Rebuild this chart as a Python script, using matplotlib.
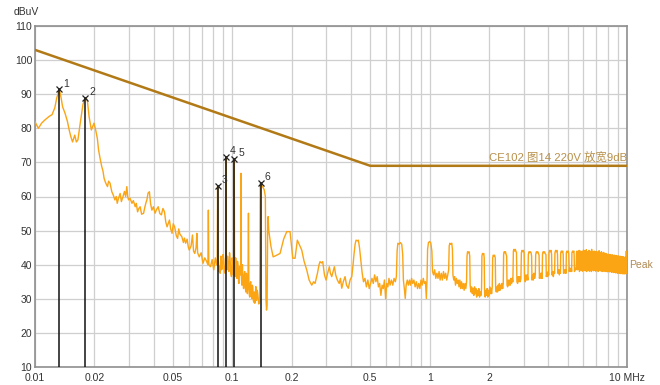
import matplotlib
matplotlib.use("Agg")
import matplotlib.pyplot as plt
from matplotlib.ticker import NullFormatter, FixedLocator

# peak trace, (MHz, dBuV) pairs, split by band
trace_low = [
    (0.0100, 81.9), (0.0104, 80.0), (0.0108, 81.5), (0.0112, 82.4), (0.0118, 83.5),
    (0.0122, 84.0), (0.0126, 86.0), (0.0129, 89.0), (0.0133, 91.4), (0.0136, 88.5),
    (0.0138, 86.3), (0.0142, 84.4), (0.0146, 82.0), (0.0149, 79.5), (0.0152, 77.5),
    (0.0155, 76.0), (0.0159, 78.0), (0.0162, 76.0), (0.0165, 76.6), (0.0170, 82.0),
    (0.0175, 87.0), (0.0180, 89.0), (0.0184, 88.4), (0.0188, 83.4), (0.0193, 79.5),
    (0.0199, 81.5), (0.0203, 79.5), (0.0207, 77.0), (0.0210, 73.6), (0.0214, 71.0),
    (0.0218, 68.7), (0.0221, 67.5), (0.0224, 65.3), (0.0228, 64.0), (0.0233, 62.9),
    (0.0236, 64.5), (0.0240, 63.9), (0.0245, 61.4), (0.0249, 60.5), (0.0254, 59.0),
    (0.0258, 60.0), (0.0261, 58.0), (0.0265, 59.5), (0.0270, 60.9), (0.0274, 58.5),
    (0.0279, 59.9), (0.0284, 61.5), (0.0288, 60.0), (0.0292, 62.9), (0.0295, 60.0),
    (0.0298, 59.0), (0.0303, 59.5), (0.0310, 58.0), (0.0315, 58.8), (0.0322, 57.0),
    (0.0326, 58.0), (0.0331, 55.5), (0.0336, 56.5), (0.0341, 57.0), (0.0347, 54.8),
    (0.0355, 55.1), (0.0360, 56.8), (0.0365, 58.2), (0.0369, 59.0), (0.0374, 61.0),
    (0.0380, 61.4), (0.0385, 58.0), (0.0391, 56.0), (0.0398, 57.0), (0.0406, 55.1),
    (0.0413, 56.2), (0.0421, 57.0), (0.0429, 55.0), (0.0437, 54.6), (0.0445, 56.5),
    (0.0453, 55.5), (0.0460, 52.5), (0.0467, 51.1), (0.0473, 52.0), (0.0480, 53.1),
    (0.0487, 50.5), (0.0495, 49.2), (0.0502, 52.0), (0.0510, 51.1), (0.0520, 48.5),
    (0.0528, 47.7), (0.0535, 50.5), (0.0542, 49.0), (0.0555, 48.2), (0.0565, 46.5),
    (0.0572, 47.8), (0.0580, 46.3), (0.0590, 47.5), (0.0598, 45.2), (0.0605, 44.3),
    (0.0618, 45.5), (0.0628, 48.7), (0.0636, 44.0), (0.0645, 43.3), (0.0655, 45.0),
    (0.0661, 49.2), (0.0667, 43.5), (0.0680, 42.3), (0.0695, 43.5), (0.0710, 40.4),
    (0.0725, 42.0), (0.0740, 41.0), (0.0752, 40.0), (0.0756, 56.0), (0.0760, 40.0),
    (0.0775, 39.4), (0.0790, 41.5), (0.0805, 38.5), (0.0820, 42.0), (0.0832, 40.0),
]

trace_spikes = [
    (0.0838, 40.0), (0.0842, 63.1), (0.0846, 40.0), (0.0850, 41.0), (0.0855, 38.0),
    (0.0860, 39.5), (0.0868, 37.5), (0.0875, 42.5), (0.0882, 38.5), (0.0890, 39.0),
    (0.0898, 43.0), (0.0905, 41.5), (0.0912, 38.0), (0.0918, 37.5), (0.0926, 40.0),
    (0.0929, 71.7), (0.0933, 40.0), (0.0940, 38.5), (0.0945, 42.5), (0.0952, 39.5),
    (0.0960, 38.0), (0.0968, 43.5), (0.0975, 41.5), (0.0982, 37.5), (0.0990, 36.5),
    (0.0998, 42.0), (0.1005, 40.5), (0.1012, 37.0), (0.1018, 39.0), (0.1022, 71.0),
    (0.1027, 39.0), (0.1034, 36.5), (0.1040, 42.0), (0.1048, 38.0), (0.1055, 36.0),
    (0.1062, 41.0), (0.1068, 40.0), (0.1075, 35.0), (0.1080, 34.5), (0.1088, 39.5),
    (0.1095, 38.5), (0.1102, 37.0), (0.1106, 66.8), (0.1110, 37.0), (0.1118, 34.0),
    (0.1125, 40.0), (0.1132, 35.5), (0.1140, 33.0), (0.1148, 37.0), (0.1155, 38.0),
    (0.1162, 33.5), (0.1170, 32.0), (0.1178, 37.5), (0.1185, 36.5), (0.1192, 31.5),
    (0.1200, 34.0), (0.1207, 55.1), (0.1213, 34.0), (0.1220, 31.0), (0.1225, 30.5),
    (0.1232, 34.5), (0.1240, 35.0), (0.1248, 31.0), (0.1255, 30.1), (0.1262, 34.0),
    (0.1270, 33.5), (0.1278, 29.5), (0.1285, 29.0), (0.1292, 32.0), (0.1300, 28.7),
    (0.1308, 31.0), (0.1315, 33.6), (0.1322, 29.5), (0.1330, 30.0), (0.1338, 32.5),
    (0.1345, 31.5), (0.1360, 28.5), (0.1375, 29.0), (0.1385, 63.9), (0.1420, 63.0),
    (0.1450, 62.0), (0.1470, 60.0), (0.1480, 30.0), (0.1490, 26.7), (0.1500, 28.0),
    (0.1510, 50.0), (0.1518, 54.1), (0.1530, 50.0), (0.1570, 45.3), (0.1610, 42.3),
    (0.1680, 42.8), (0.1745, 43.3), (0.1820, 47.5), (0.1887, 49.7), (0.1961, 49.7),
    (0.2024, 41.9), (0.2079, 41.9), (0.2135, 47.2), (0.2200, 45.5), (0.2247, 44.3),
    (0.2310, 41.0), (0.2384, 38.4), (0.2450, 35.5), (0.2526, 34.0), (0.2580, 35.0),
    (0.2625, 34.5), (0.2700, 37.5), (0.2750, 40.0), (0.2783, 40.9), (0.2830, 40.5),
    (0.2872, 40.9), (0.2930, 37.0), (0.2985, 35.5), (0.3040, 37.5), (0.3101, 39.4),
    (0.3140, 37.5), (0.3190, 36.5), (0.3240, 38.0), (0.3289, 39.4), (0.3340, 37.0),
    (0.3406, 35.5), (0.3480, 34.5), (0.3530, 36.0), (0.3586, 33.1), (0.3650, 35.0),
    (0.3726, 36.5), (0.3790, 34.0), (0.3872, 33.1), (0.3950, 35.5), (0.4030, 36.5),
    (0.4090, 40.0), (0.4140, 43.3), (0.4190, 46.0), (0.4236, 47.2), (0.4300, 47.0),
    (0.4352, 47.2), (0.4410, 45.0), (0.4476, 41.4),
]

trace_mid = [
    (0.455, 37.5), (0.462, 35.0), (0.470, 36.0), (0.478, 33.5), (0.486, 35.5),
    (0.494, 33.0), (0.502, 34.5), (0.510, 36.0), (0.518, 34.5), (0.526, 37.0),
    (0.534, 35.0), (0.542, 36.5), (0.550, 33.5), (0.558, 34.5), (0.566, 31.0),
    (0.574, 34.0), (0.582, 33.0), (0.590, 35.5), (0.598, 30.0), (0.606, 34.5),
    (0.614, 33.5), (0.622, 36.0), (0.630, 34.0), (0.640, 35.5), (0.650, 34.0),
    (0.660, 36.0), (0.670, 35.0), (0.678, 36.5), (0.684, 44.0), (0.690, 46.3),
    (0.700, 46.0), (0.710, 46.5), (0.722, 46.0), (0.730, 43.0), (0.736, 35.5),
    (0.744, 33.0), (0.752, 30.1), (0.760, 34.0), (0.770, 35.5), (0.780, 34.0),
    (0.790, 35.5), (0.800, 34.0), (0.810, 36.0), (0.820, 34.5), (0.832, 35.5),
    (0.844, 33.5), (0.856, 35.0), (0.868, 33.0), (0.880, 34.5), (0.892, 33.0),
    (0.904, 35.5), (0.916, 34.0), (0.928, 36.0), (0.940, 34.5), (0.952, 35.0),
    (0.962, 30.1), (0.970, 36.0), (0.976, 44.5), (0.986, 46.5), (1.000, 46.8),
    (1.014, 46.3), (1.026, 44.0), (1.034, 38.0), (1.046, 37.0), (1.060, 38.5),
    (1.074, 36.0), (1.088, 37.5), (1.102, 36.0), (1.116, 38.0), (1.130, 35.5),
    (1.145, 37.5), (1.160, 35.5), (1.175, 38.0), (1.190, 36.0), (1.205, 37.5),
    (1.220, 35.5), (1.235, 37.0), (1.248, 38.5), (1.256, 45.5), (1.266, 46.3),
    (1.280, 46.0), (1.294, 46.3), (1.304, 44.5), (1.312, 37.0), (1.325, 35.5),
    (1.338, 36.5), (1.352, 34.0), (1.366, 36.0), (1.380, 34.5), (1.394, 35.5),
    (1.408, 33.5), (1.422, 35.5), (1.436, 33.0), (1.450, 35.0), (1.465, 33.0),
    (1.480, 34.5), (1.495, 32.5), (1.510, 34.5), (1.525, 33.0), (1.538, 35.0),
    (1.546, 42.5), (1.556, 43.8), (1.570, 43.5), (1.584, 43.8), (1.596, 42.5),
    (1.604, 34.0), (1.618, 32.0), (1.632, 33.5), (1.646, 31.5), (1.660, 33.0),
    (1.674, 31.0), (1.688, 33.5), (1.702, 31.5), (1.716, 33.0), (1.730, 30.5),
    (1.745, 32.5), (1.760, 31.0), (1.775, 33.0), (1.790, 30.5), (1.805, 32.0),
    (1.820, 31.0), (1.832, 33.0), (1.840, 42.5), (1.852, 43.3), (1.866, 43.0),
    (1.880, 43.3), (1.890, 42.0), (1.898, 32.0), (1.912, 30.5), (1.926, 32.5),
    (1.940, 31.0), (1.955, 33.0), (1.970, 30.5), (1.985, 32.5), (2.000, 31.0),
    (2.015, 33.5), (2.030, 31.5), (2.045, 33.0), (2.060, 31.5), (2.076, 33.5),
    (2.086, 42.0), (2.100, 42.8), (2.116, 42.5), (2.132, 42.8), (2.150, 42.0),
    (2.160, 33.0), (2.176, 32.0), (2.192, 33.5), (2.208, 32.0), (2.224, 34.0),
    (2.240, 32.5), (2.256, 34.5), (2.272, 32.5), (2.290, 34.0), (2.308, 33.0),
    (2.326, 34.5), (2.344, 33.0), (2.360, 34.5), (2.370, 43.0), (2.386, 43.8),
    (2.404, 43.5), (2.422, 43.8), (2.440, 43.0), (2.456, 42.5), (2.466, 34.0),
    (2.484, 33.5), (2.502, 35.5), (2.520, 34.0), (2.540, 35.5), (2.560, 34.0),
    (2.580, 36.0), (2.600, 34.5), (2.620, 36.0), (2.640, 35.0), (2.656, 44.0),
    (2.674, 44.5), (2.694, 44.0), (2.714, 44.5), (2.734, 44.0), (2.754, 43.5),
    (2.768, 35.0), (2.790, 34.5), (2.812, 36.5), (2.834, 35.0), (2.856, 36.5),
    (2.878, 35.0), (2.900, 36.0), (2.916, 43.5), (2.938, 44.2), (2.962, 43.8),
    (2.986, 44.2), (3.010, 43.5), (3.026, 36.0), (3.050, 35.0), (3.074, 37.0),
    (3.098, 35.5), (3.122, 37.0), (3.146, 35.5), (3.162, 43.0), (3.188, 43.8),
    (3.214, 43.5), (3.240, 43.8), (3.266, 43.5), (3.286, 42.5), (3.300, 35.5),
    (3.326, 37.0), (3.352, 35.5), (3.378, 37.5), (3.404, 36.0), (3.430, 37.0),
    (3.446, 43.0), (3.474, 43.8), (3.502, 43.5), (3.530, 43.8), (3.560, 43.2),
    (3.584, 42.8), (3.600, 36.0), (3.630, 37.5), (3.660, 36.0), (3.690, 37.5),
    (3.716, 36.0), (3.730, 43.0), (3.760, 43.8), (3.790, 43.5), (3.820, 43.8),
    (3.852, 43.2), (3.884, 43.0), (3.900, 36.5), (3.930, 37.5), (3.960, 36.5),
    (3.990, 38.0), (4.010, 37.0), (4.024, 43.5), (4.056, 44.2), (4.088, 43.8),
    (4.120, 44.2), (4.148, 43.0), (4.166, 37.0), (4.200, 38.0), (4.234, 36.5),
    (4.268, 38.0), (4.296, 37.5), (4.314, 43.5), (4.348, 44.2), (4.382, 43.8),
    (4.416, 44.2), (4.444, 43.0), (4.462, 37.5), (4.500, 38.5), (4.538, 37.0),
    (4.576, 38.5), (4.600, 37.5), (4.614, 43.5), (4.650, 44.0), (4.686, 43.6),
    (4.722, 44.0), (4.750, 43.0), (4.770, 37.5), (4.810, 38.5), (4.850, 37.5),
    (4.890, 38.5), (4.912, 37.5), (4.926, 43.5), (4.964, 44.0), (5.002, 43.6),
    (5.040, 44.0), (5.074, 43.0), (5.094, 38.0), (5.136, 39.0), (5.178, 38.0),
    (5.220, 39.0), (5.242, 38.0), (5.258, 43.5), (5.298, 44.0), (5.338, 43.6),
    (5.378, 44.0), (5.396, 43.0), (5.416, 38.0), (5.458, 39.0), (5.500, 38.5),
    (5.530, 39.0), (5.548, 43.5), (5.580, 44.0), (5.600, 38.5),
]

trace_high = [
    (5.620, 43.8), (5.645, 38.6), (5.670, 42.9), (5.695, 39.2), (5.720, 44.2),
    (5.745, 38.0), (5.770, 43.1), (5.795, 39.5), (5.820, 44.0), (5.845, 38.4),
    (5.870, 42.6), (5.895, 38.9), (5.920, 43.9), (5.945, 38.1), (5.970, 43.2),
    (5.995, 39.4), (6.020, 44.3), (6.045, 38.3), (6.070, 42.8), (6.095, 39.0),
    (6.120, 44.1), (6.145, 38.2), (6.170, 43.4), (6.195, 39.3), (6.220, 44.4),
    (6.245, 38.0), (6.270, 42.7), (6.295, 38.8), (6.320, 43.8), (6.345, 38.4),
    (6.370, 43.0), (6.395, 39.4), (6.420, 44.2), (6.445, 38.1), (6.470, 42.9),
    (6.495, 39.1), (6.520, 43.9), (6.545, 38.5), (6.570, 43.3), (6.595, 38.0),
    (6.620, 44.5), (6.645, 38.7), (6.670, 42.8), (6.695, 39.2), (6.720, 43.7),
    (6.745, 38.2), (6.770, 43.1), (6.795, 39.0), (6.820, 44.0), (6.845, 38.3),
    (6.870, 42.6), (6.895, 38.9), (6.920, 43.8), (6.945, 38.1), (6.970, 43.0),
    (6.995, 39.3), (7.020, 43.9), (7.045, 38.4), (7.070, 42.7), (7.095, 38.8),
    (7.120, 43.6), (7.145, 38.0), (7.170, 43.2), (7.195, 39.1), (7.220, 44.1),
    (7.245, 38.3), (7.270, 42.5), (7.295, 38.9), (7.320, 43.5), (7.345, 38.2),
    (7.370, 42.9), (7.395, 39.0), (7.420, 43.8), (7.445, 38.1), (7.470, 42.6),
    (7.495, 38.7), (7.520, 43.4), (7.545, 38.0), (7.570, 42.8), (7.595, 39.1),
    (7.620, 43.6), (7.645, 38.3), (7.670, 42.4), (7.695, 38.8), (7.720, 43.2),
    (7.745, 38.0), (7.770, 42.7), (7.795, 38.9), (7.820, 43.3), (7.845, 38.2),
    (7.870, 42.3), (7.895, 38.6), (7.920, 43.0), (7.945, 37.9), (7.970, 42.6),
    (7.995, 38.8), (8.020, 43.1), (8.045, 38.1), (8.070, 42.2), (8.095, 38.7),
    (8.120, 42.9), (8.145, 37.9), (8.170, 42.5), (8.195, 38.6), (8.220, 43.0),
    (8.245, 38.0), (8.270, 42.1), (8.295, 38.5), (8.320, 42.8), (8.345, 37.8),
    (8.370, 42.4), (8.395, 38.6), (8.420, 42.9), (8.445, 37.9), (8.470, 42.0),
    (8.495, 38.4), (8.520, 42.7), (8.545, 37.7), (8.570, 42.3), (8.595, 38.5),
    (8.620, 42.8), (8.645, 37.8), (8.670, 41.9), (8.695, 38.3), (8.720, 42.6),
    (8.745, 37.6), (8.770, 42.2), (8.795, 38.4), (8.820, 42.7), (8.845, 37.7),
    (8.870, 41.8), (8.895, 38.2), (8.920, 42.5), (8.945, 37.5), (8.970, 42.1),
    (8.995, 38.3), (9.020, 42.6), (9.045, 37.6), (9.070, 41.7), (9.095, 38.1),
    (9.120, 42.4), (9.145, 37.5), (9.170, 42.0), (9.195, 38.2), (9.220, 42.5),
    (9.245, 37.4), (9.270, 41.6), (9.295, 38.0), (9.320, 42.3), (9.345, 37.5),
    (9.370, 41.9), (9.395, 38.1), (9.420, 42.4), (9.445, 37.4), (9.470, 41.5),
    (9.495, 37.9), (9.520, 42.2), (9.545, 37.3), (9.570, 41.8), (9.595, 38.0),
    (9.620, 42.3), (9.645, 37.4), (9.670, 41.4), (9.695, 37.9), (9.720, 42.1),
    (9.745, 37.3), (9.770, 41.7), (9.795, 38.0), (9.820, 42.2), (9.845, 37.4),
    (9.870, 41.5), (9.895, 37.8), (9.920, 44.0), (9.945, 37.5), (9.970, 41.0),
    (10.00, 40.5),
]

limit_freq = [0.01, 0.5, 10]
limit_dbuv = [103, 69, 69]
limit_name = "CE102 图14 220V 放宽9dB"

marker_id = ["1", "2", "3", "4", "5", "6"]
marker_freq = [0.0133, 0.0180, 0.0843, 0.0929, 0.1024, 0.139]
marker_dbuv = [91.4, 89.0, 63.1, 71.7, 71.0, 63.9]

tick_vals = [0.01, 0.02, 0.05, 0.1, 0.2, 0.5, 1, 2, 10]
tick_text = ["0.01", "0.02", "0.05", "0.1", "0.2", "0.5", "1", "2", "10 MHz"]

plt.rcParams["font.family"] = ["Liberation Sans", "Noto Sans CJK SC", "DejaVu Sans"]

trace = trace_low + trace_spikes + trace_mid + trace_high
freq_mhz = [p[0] for p in trace]
peak_dbuv = [p[1] for p in trace]

fig = plt.figure(figsize=(6.6, 3.85), dpi=100)
ax = fig.add_axes([35 / 660, 18 / 385, 592 / 660, 341 / 385])

ax.set_xscale("log")
ax.set_xlim(0.01, 10)
ax.set_ylim(10, 110)

ax.plot(freq_mhz, peak_dbuv, color="#fba414", lw=1.0, zorder=3)
ax.plot(limit_freq, limit_dbuv, color="#b27a16", lw=1.8, zorder=4)

for f, v in zip(marker_freq, marker_dbuv):
    ax.plot([f, f], [10, v], color="#111111", lw=1.1, zorder=5)
ax.plot(marker_freq, marker_dbuv, ls="none", marker="x", ms=5, mew=0.9,
        color="#222222", zorder=6)
for lab, f, v in zip(marker_id, marker_freq, marker_dbuv):
    ax.annotate(lab, (f, v), xytext=(3, 2), textcoords="offset points",
                fontsize=7.5, color="#333333", zorder=7)

ax.text(10, 69.6, limit_name, ha="right", va="bottom", fontsize=8.2,
        color="#b8904a", zorder=6)
ax.text(1.004, 40, "Peak", transform=ax.get_yaxis_transform(), ha="left",
        va="center", fontsize=7.5, color="#b08a55", clip_on=False)

ax.xaxis.set_major_locator(FixedLocator(tick_vals))
ax.set_xticklabels(tick_text)
ax.xaxis.set_minor_formatter(NullFormatter())
ax.set_yticks(range(10, 111, 10))
ax.tick_params(which="both", length=0, labelsize=7.5, labelcolor="#333333")
ax.tick_params(axis="x", pad=4)
ax.tick_params(axis="y", pad=2)

ax.grid(True, which="both", axis="x", color="#cfcfcf", lw=0.9)
ax.grid(True, which="major", axis="y", color="#cfcfcf", lw=0.9)
ax.set_axisbelow(True)
for s in ax.spines.values():
    s.set_color("#8f8f8f")
    s.set_linewidth(1.2)

fig.text(14 / 660, 1 - 12 / 385, "dBuV", fontsize=7.5, color="#333333", va="center")

fig.savefig("out.png", dpi=100)
